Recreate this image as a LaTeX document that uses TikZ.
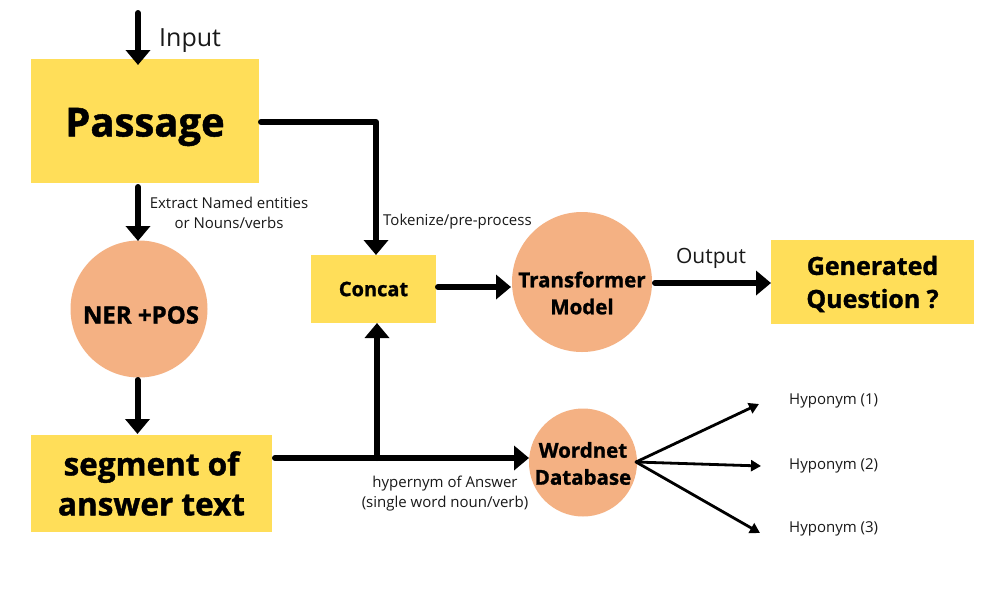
\documentclass[tikz,border=0pt]{standalone}
\usepackage{fontspec}
\setmainfont{Open Sans}[BoldFeatures={FakeBold=1.2}]
\usetikzlibrary{arrows.meta,positioning}
\definecolor{boxy}{HTML}{FFDE59}
\definecolor{circ}{HTML}{F4B183}
\tikzset{
  ybox/.style={fill=boxy, draw=none, inner sep=0pt, align=center, font=\bfseries},
  cnode/.style={circle, fill=circ, draw=none, inner sep=0pt, align=center, font=\bfseries},
  ctext/.style={inner sep=0pt, align=center, font=\bfseries},
  thick arrow/.style={line width=6pt, -{Triangle[width=24pt,length=15pt]}, line cap=round, line join=round},
  thin arrow/.style={line width=2.8pt, -{Triangle[width=11pt,length=10pt]}, line cap=round},
  lbl/.style={inner sep=0pt, align=center, text=black!90}
}
\begin{document}
\begin{tikzpicture}[x=1pt,y=-1pt]
\useasboundingbox[fill=white] (0,0) rectangle (1004,590);
% nodes
\node[ybox, minimum width=228pt, minimum height=124pt] (passage) at (145,121) {};
\node[ctext, font=\bfseries\fontsize{40}{44}\selectfont] (passagetext) at (145,127) {Passage};
\node[cnode, minimum size=137pt] (ner) at (139,309) {};
\node[ctext, font=\bfseries\fontsize{24}{28}\selectfont] (nertext) at (141,315) {NER +POS};
\node[ybox, minimum width=241pt, minimum height=97pt, font=\bfseries\fontsize{31.5}{40}\selectfont] (seg) at (151.5,483.5) {segment of\\answer text};
\node[ybox, minimum width=125pt, minimum height=68pt, font=\bfseries\fontsize{20}{24}\selectfont] (concat) at (373.5,289) {Concat};
\node[cnode, minimum size=140pt] (trans) at (582,282) {};
\node[ctext, font=\bfseries\fontsize{20.5}{27}\selectfont] (transtext) at (582,293) {Transformer\\Model};
\node[ybox, minimum width=203pt, minimum height=84pt] (gen) at (872.5,282) {};
\node[ctext, font=\bfseries\fontsize{25}{33}\selectfont] (gentext) at (872.5,284) {Generated\\Question ?};
\node[cnode, minimum size=108pt] (wn) at (583,462.5) {};
\node[ctext, font=\bfseries\fontsize{20.5}{27}\selectfont] (wntext) at (583,463.5) {Wordnet\\Database};
% hyponym labels
\node[lbl, anchor=west, font=\fontsize{15}{17}\selectfont] (h1) at (789,401) {Hyponym (1)};
\node[lbl, anchor=west, font=\fontsize{15}{17}\selectfont] (h2) at (789,466) {Hyponym (2)};
\node[lbl, anchor=west, font=\fontsize{15}{17}\selectfont] (h3) at (789,529) {Hyponym (3)};
% coordinates
\coordinate (inTop) at (138,13);
\coordinate (inEnd) at (138,65);
\coordinate (exStart) at (138,187);
\coordinate (exEnd) at (138,241);
\coordinate (nsStart) at (137.5,380);
\coordinate (nsEnd) at (137.5,434);
\coordinate (pstart) at (261,122);
\coordinate (pcorner) at (376,122);
\coordinate (pend) at (376,255);
\coordinate (cstart) at (438,287);
\coordinate (cend) at (511,287);
\coordinate (tstart) at (655,283);
\coordinate (tend) at (771,283);
\coordinate (sstart) at (275,458);
\coordinate (send) at (529,458);
\coordinate (branch) at (377,458);
\coordinate (bend) at (377,323);
\coordinate (a0) at (636,462);
\coordinate (a1) at (759,404);
\coordinate (a2) at (761,466);
\coordinate (a3) at (760,533);
% connectors
\draw[thick arrow] (inTop) -- (inEnd);
\draw[thick arrow] (exStart) -- (exEnd);
\draw[thick arrow] (nsStart) -- (nsEnd);
\draw[thick arrow] (pstart) -- (pcorner) -- (pend);
\draw[thick arrow] (cstart) -- (cend);
\draw[thick arrow] (tstart) -- (tend);
\draw[thick arrow] (sstart) -- (send);
\draw[thick arrow] (branch) -- (bend);
\draw[thin arrow] (a0) -- (a1);
\draw[thin arrow] (a0) -- (a2);
\draw[thin arrow] (a0) -- (a3);
% labels
\node[lbl, font=\fontsize{25}{28}\selectfont, anchor=west] (linput) at (159,41) {Input};
\node[lbl, font=\fontsize{15}{20}\selectfont] (lextract) at (229,213) {Extract Named entities\\or Nouns/verbs};
\node[lbl, font=\fontsize{15}{17}\selectfont, anchor=west] (ltok) at (383,222) {Tokenize/pre-process};
\node[lbl, font=\fontsize{21}{24}\selectfont] (lout) at (711,258) {Output};
\node[lbl, font=\fontsize{15}{20}\selectfont] (lhyp) at (445,494) {hypernym of Answer\\(single word noun/verb)};
\end{tikzpicture}
\end{document}
